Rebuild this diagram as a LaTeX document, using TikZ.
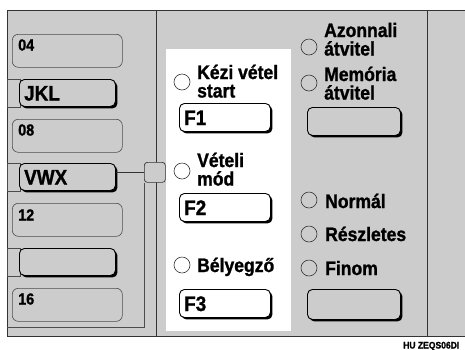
\documentclass[tikz,border=0pt]{standalone}
\usepackage{fontspec}
\setmainfont[FakeStretch=0.9, BoldFeatures={FakeBold=1.2}]{Liberation Sans}
\usetikzlibrary{shadows}
\definecolor{panel}{gray}{0.80}
\definecolor{edge}{gray}{0.20}
\definecolor{thinedge}{gray}{0.30}
\newcommand{\twoln}[2]{\vtop{\hbox{#1}\hbox{#2}}}
\begin{document}
\begin{tikzpicture}[x=1pt,y=-1pt,
  thinbtn/.style={draw=thinedge, line width=0.6pt, rounded corners=6pt, fill=panel,
    minimum width=110pt, minimum height=33pt, anchor=north west, inner sep=0pt},
  boldbtn/.style={draw=black, line width=0.9pt, rounded corners=5pt, fill=panel,
    minimum width=96pt, minimum height=27pt, anchor=north west, inner sep=0pt,
    drop shadow={shadow xshift=2pt, shadow yshift=-2pt, fill=black, opacity=1}},
  tab/.style={draw=thinedge, line width=0.6pt, fill=panel},
  radio/.style={circle, draw=edge, line width=0.6pt, minimum size=16pt, inner sep=0pt},
  numlbl/.style={font=\bfseries\fontsize{16}{18}\selectfont, anchor=base west, inner sep=0pt},
  keylbl/.style={font=\bfseries\fontsize{21}{22}\selectfont, anchor=base west, inner sep=0pt},
  optlbl/.style={font=\bfseries\fontsize{19.5}{18.5}\selectfont, anchor=base west, inner sep=0pt},
  frame/.style={draw=edge, line width=0.8pt}
]
\useasboundingbox (0,0) rectangle (465,349);
% panel
\fill[panel] (7,10) rectangle (465,336);
\draw[frame] (465,10) -- (7,10) -- (7,336) -- (465,336);
\draw[frame] (156,10) -- (156,336);
\draw[frame] (427,10) -- (427,336);
% white area
\fill[white] (166,49) rectangle (291,331);
% left column
\node[thinbtn] (b04) at (12,34) {};
\node[numlbl] (t04) at (18,50.5) {04};
\draw[tab] (7,79) rectangle (20,107);
\node[boldbtn] (jkl) at (19,79) {};
\node[keylbl] (tjkl) at (24,100.5) {JKL};
\node[thinbtn] (b08) at (12,119) {};
\node[numlbl] (t08) at (18,135.5) {08};
\draw[tab] (7,163) rectangle (20,191);
\node[boldbtn] (vwx) at (19,163) {};
\node[keylbl] (tvwx) at (24,184.5) {VWX};
\node[thinbtn] (b12) at (12,203) {};
\node[numlbl] (t12) at (18,220.5) {12};
\draw[tab] (7,248) rectangle (20,276);
\node[boldbtn] (blk) at (19,248) {};
\node[thinbtn] (b16) at (12,288) {};
\node[numlbl] (t16) at (18,304.5) {16};
% connector square
\node[draw=edge, line width=0.7pt, fill=panel, rounded corners=3pt, minimum width=21pt,
  minimum height=20pt, anchor=north west, inner sep=0pt] (sq) at (144,162) {};
\draw[draw=edge, line width=0.7pt] (vwx.east |- sq.west) -- (sq.west);
\coordinate (fc) at (144,327);
\coordinate (fl) at (7,327);
\draw[draw=thinedge, line width=0.6pt] (sq.south west) -- (fc) -- (fl);
% middle column
\node[radio] (r1) at (182,82) {};
\node[optlbl] (l1) at (197,79) {\twoln{Kézi vétel}{start}};
\node[boldbtn, fill=white, minimum width=91pt, minimum height=28pt] (f1) at (179,103) {};
\node[keylbl] (tf1) at (184,125) {F1};
\node[radio] (r2) at (182,171) {};
\node[optlbl] (l2) at (197,167) {\twoln{Vételi}{mód}};
\node[boldbtn, fill=white, minimum width=91pt, minimum height=28pt] (f2) at (179,193) {};
\node[keylbl] (tf2) at (184,215) {F2};
\node[radio] (r3) at (182,265) {};
\node[optlbl] (l3) at (197,272) {Bélyegző};
\node[boldbtn, fill=white, minimum width=91pt, minimum height=28pt] (f3) at (179,289) {};
\node[keylbl] (tf3) at (184,311) {F3};
% right column
\node[radio] (r4) at (309,47) {};
\node[optlbl] (l4) at (324,37) {\twoln{Azonnali}{átvitel}};
\node[radio] (r5) at (309,83) {};
\node[optlbl] (l5) at (324,81) {\twoln{Memória}{átvitel}};
\node[boldbtn, minimum width=93pt, minimum height=28pt] (rb1) at (307,107) {};
\node[radio] (r6) at (309,200) {};
\node[optlbl] (l6) at (325,208) {Normál};
\node[radio] (r7) at (309,234) {};
\node[optlbl] (l7) at (325,241) {Részletes};
\node[radio] (r8) at (309,268) {};
\node[optlbl] (l8) at (325,275) {Finom};
\node[boldbtn, minimum width=93pt, minimum height=30pt] (rb2) at (307,289) {};
% code
\node[font=\bfseries\fontsize{9.5}{10}\selectfont, anchor=base west, inner sep=0pt] (code) at (403,348.5) {HU ZEQS06DI};
\end{tikzpicture}
\end{document}
